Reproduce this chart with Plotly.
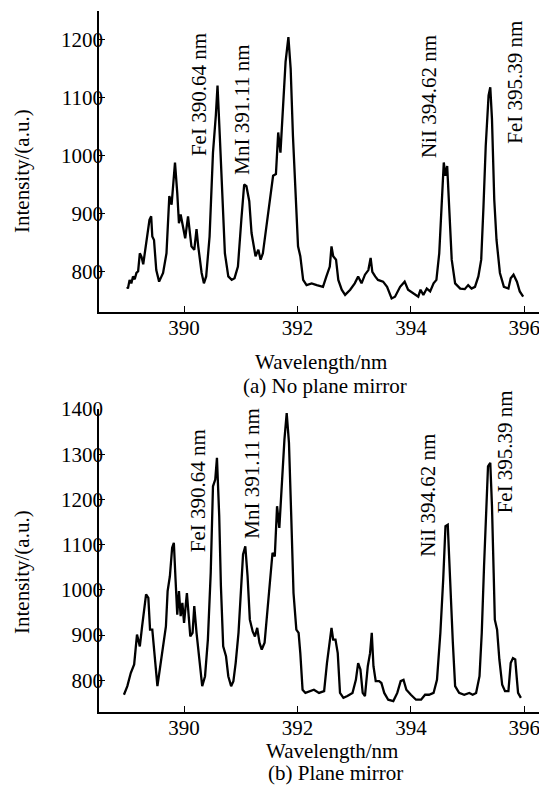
import plotly.graph_objects as go

# ---------------- data ----------------
wavelength_a = [389.00, 389.01, 389.04, 389.07, 389.10, 389.13, 389.16, 389.19, 389.22, 389.25, 389.28, 389.31,
                389.36, 389.39, 389.42, 389.44, 389.47, 389.51, 389.56, 389.60, 389.63, 389.69, 389.74, 389.78,
                389.84, 389.88, 389.91, 389.94, 389.98, 390.02, 390.07, 390.10, 390.13, 390.18, 390.22, 390.25,
                390.31, 390.35, 390.39, 390.45, 390.51, 390.56, 390.59, 390.63, 390.68, 390.72, 390.78, 390.84,
                390.89, 390.95, 391.01, 391.06, 391.10, 391.15, 391.19, 391.23, 391.26, 391.31, 391.35, 391.39,
                391.45, 391.51, 391.57, 391.62, 391.66, 391.70, 391.75, 391.79, 391.84, 391.88, 391.92, 391.97,
                392.01, 392.05, 392.10, 392.16, 392.25, 392.34, 392.45, 392.51, 392.57, 392.60, 392.63, 392.68,
                392.72, 392.78, 392.84, 392.93, 393.01, 393.07, 393.13, 393.19, 393.25, 393.29, 393.32, 393.37,
                393.42, 393.51, 393.58, 393.66, 393.72, 393.81, 393.89, 393.95, 394.04, 394.13, 394.17, 394.22,
                394.28, 394.34, 394.40, 394.45, 394.50, 394.54, 394.58, 394.61, 394.64, 394.68, 394.72, 394.78,
                394.87, 394.95, 395.01, 395.07, 395.13, 395.19, 395.24, 395.28, 395.32, 395.37, 395.40, 395.43,
                395.47, 395.51, 395.57, 395.64, 395.72, 395.76, 395.81, 395.87, 395.92, 395.98]
intensity_a = [773, 770, 785, 779, 791, 786, 797, 800, 831, 825, 812, 835,
               866, 889, 895, 860, 854, 802, 782, 790, 797, 831, 930, 915,
               988, 935, 883, 898, 875, 857, 895, 866, 843, 837, 873, 843,
               797, 779, 791, 860, 1005, 1069, 1121, 1034, 918, 831, 791, 785,
               788, 808, 889, 950, 947, 921, 866, 843, 826, 837, 820, 831,
               878, 918, 965, 968, 1040, 1005, 1092, 1162, 1205, 1150, 1034, 918,
               843, 826, 785, 776, 779, 776, 773, 791, 808, 843, 826, 820,
               785, 768, 759, 768, 779, 791, 779, 794, 802, 823, 799, 791,
               785, 782, 773, 753, 756, 773, 782, 768, 762, 756, 768, 759,
               770, 765, 779, 785, 831, 901, 988, 965, 982, 901, 820, 779,
               770, 769, 776, 770, 773, 791, 820, 912, 1017, 1104, 1118, 1063,
               924, 854, 797, 773, 770, 788, 794, 782, 765, 756]

wavelength_b = [388.94, 389.00, 389.06, 389.12, 389.17, 389.22, 389.26, 389.31, 389.33, 389.37, 389.40, 389.44,
                389.49, 389.53, 389.58, 389.63, 389.68, 389.71, 389.75, 389.79, 389.82, 389.85, 389.88, 389.91,
                389.94, 389.97, 390.00, 390.05, 390.08, 390.11, 390.15, 390.18, 390.22, 390.27, 390.32, 390.37,
                390.42, 390.47, 390.51, 390.55, 390.58, 390.62, 390.65, 390.69, 390.74, 390.78, 390.83, 390.87,
                390.91, 390.96, 391.00, 391.04, 391.08, 391.12, 391.16, 391.21, 391.25, 391.29, 391.33, 391.37,
                391.42, 391.47, 391.52, 391.56, 391.60, 391.64, 391.68, 391.73, 391.77, 391.81, 391.85, 391.89,
                391.93, 391.98, 392.02, 392.05, 392.09, 392.14, 392.21, 392.29, 392.38, 392.47, 392.52, 392.56,
                392.60, 392.63, 392.67, 392.71, 392.75, 392.81, 392.88, 392.97, 393.03, 393.07, 393.11, 393.15,
                393.19, 393.24, 393.28, 393.31, 393.34, 393.38, 393.44, 393.48, 393.53, 393.60, 393.69, 393.76,
                393.82, 393.87, 393.92, 394.00, 394.09, 394.18, 394.25, 394.32, 394.40, 394.46, 394.52, 394.57,
                394.61, 394.65, 394.69, 394.74, 394.78, 394.85, 394.94, 395.03, 395.09, 395.15, 395.21, 395.25,
                395.29, 395.33, 395.36, 395.40, 395.43, 395.46, 395.48, 395.52, 395.56, 395.61, 395.66, 395.72,
                395.76, 395.80, 395.84, 395.87, 395.89, 395.94]
intensity_b = [768, 787, 816, 835, 901, 875, 919, 964, 990, 982, 912, 912,
               831, 787, 831, 875, 919, 997, 1030, 1093, 1104, 1023, 945, 997,
               942, 971, 927, 993, 949, 897, 905, 964, 905, 838, 787, 809,
               890, 1037, 1229, 1244, 1292, 1163, 1008, 875, 853, 809, 787, 798,
               838, 905, 993, 1078, 1096, 1030, 934, 908, 897, 916, 883, 868,
               883, 956, 1037, 1082, 1074, 1185, 1137, 1259, 1332, 1391, 1325, 1163,
               993, 912, 905, 860, 779, 772, 776, 779, 772, 776, 838, 875,
               916, 890, 890, 860, 772, 761, 765, 772, 801, 838, 824, 772,
               765, 831, 860, 905, 831, 798, 798, 794, 772, 757, 754, 772,
               798, 801, 779, 768, 757, 757, 768, 768, 772, 801, 905, 1023,
               1141, 1144, 1015, 883, 787, 772, 768, 772, 768, 772, 809, 905,
               1052, 1200, 1273, 1281, 1185, 1037, 934, 912, 846, 790, 776, 776,
               838, 849, 846, 801, 772, 761]

x_ticks = [390, 392, 394, 396]
y_ticks_a = [800, 900, 1000, 1100, 1200]
y_ticks_b = [800, 900, 1000, 1100, 1200, 1300, 1400]

lines_a = ["FeI 390.64 nm", "MnI 391.11 nm", "NiI 394.62 nm", "FeI 395.39 nm"]
label_x_a = [390.26, 391.02, 394.31, 395.83]
label_y_a = [1106, 1079, 1102, 1127]
label_x_b = [390.26, 391.20, 394.31, 395.65]
label_y_b = [1220, 1257, 1209, 1305]

# ---------------- figure ----------------
# the page body keeps an 8px margin, so the figure is drawn 8px in from the window corner
OFF = 8
WIN_W, WIN_H = 547, 787
W, H = WIN_W - OFF, WIN_H - OFF
FONT = "Liberation Serif, Times New Roman, serif"
FS = 21


def fx(px):  # window pixel -> paper x
    return (px - OFF) / W


def fy(py):  # window pixel -> paper y
    return 1 - (py - OFF) / H


fig = go.Figure()
fig.add_trace(go.Scatter(x=wavelength_a, y=intensity_a, mode="lines",
                         line=dict(color="black", width=2.3), xaxis="x", yaxis="y", showlegend=False))
fig.add_trace(go.Scatter(x=wavelength_b, y=intensity_b, mode="lines",
                         line=dict(color="black", width=2.3), xaxis="x2", yaxis="y2", showlegend=False))

xdom = [fx(99), 1.0]
x_range = [388.5, 390 + (WIN_W - 184.3) / 56.67]
ax_common = dict(showline=True, linecolor="black", linewidth=1.5, ticks="inside", ticklen=6,
                 tickwidth=1.3, tickcolor="black", showgrid=False, zeroline=False, automargin=False,
                 tickfont=dict(family=FONT, size=FS, color="black"))

fig.update_layout(
    template="none",
    width=W, height=H, margin=dict(l=0, r=0, t=0, b=0, pad=0, autoexpand=False),
    paper_bgcolor="white", plot_bgcolor="white",
    xaxis=dict(domain=xdom, range=x_range, tickvals=x_ticks, anchor="y", ticklabelstandoff=-4, **ax_common),
    yaxis=dict(domain=[fy(311.7), fy(11)], range=[730, 1250], tickvals=y_ticks_a, anchor="x",
               ticklabelstandoff=-10, **ax_common),
    xaxis2=dict(domain=xdom, range=x_range, tickvals=x_ticks, anchor="y2", ticklabelstandoff=-4, **ax_common),
    yaxis2=dict(domain=[fy(711.7), fy(408.5)], range=[730.5, 1401], tickvals=y_ticks_b, anchor="x2",
                ticklabelstandoff=-10, **ax_common),
)

anns = []
for t, x, y in zip(lines_a, label_x_a, label_y_a):
    anns.append(dict(text=t, x=x, y=y, xref="x", yref="y", textangle=-90, showarrow=False,
                     font=dict(family=FONT, size=FS, color="black")))
for t, x, y in zip(lines_a, label_x_b, label_y_b):
    anns.append(dict(text=t, x=x, y=y, xref="x2", yref="y2", textangle=-90, showarrow=False,
                     font=dict(family=FONT, size=FS, color="black")))


def paper_text(text, px, py, angle=0):
    return dict(text=text, x=fx(px), y=fy(py), xref="paper", yref="paper", showarrow=False,
                textangle=angle, xanchor="center", yanchor="middle",
                font=dict(family=FONT, size=FS, color="black"))


anns += [
    paper_text("Wavelength/nm", 321, 362),
    paper_text("(a) No plane mirror", 325, 386),
    paper_text("Intensity/(a.u.)", 22, 171, -90),
    paper_text("Wavelength/nm", 332, 751),
    paper_text("(b) Plane mirror", 335, 773),
    paper_text("Intensity/(a.u.)", 22, 572, -90),
]
fig.update_layout(annotations=anns)

fig.write_html("out.html")
